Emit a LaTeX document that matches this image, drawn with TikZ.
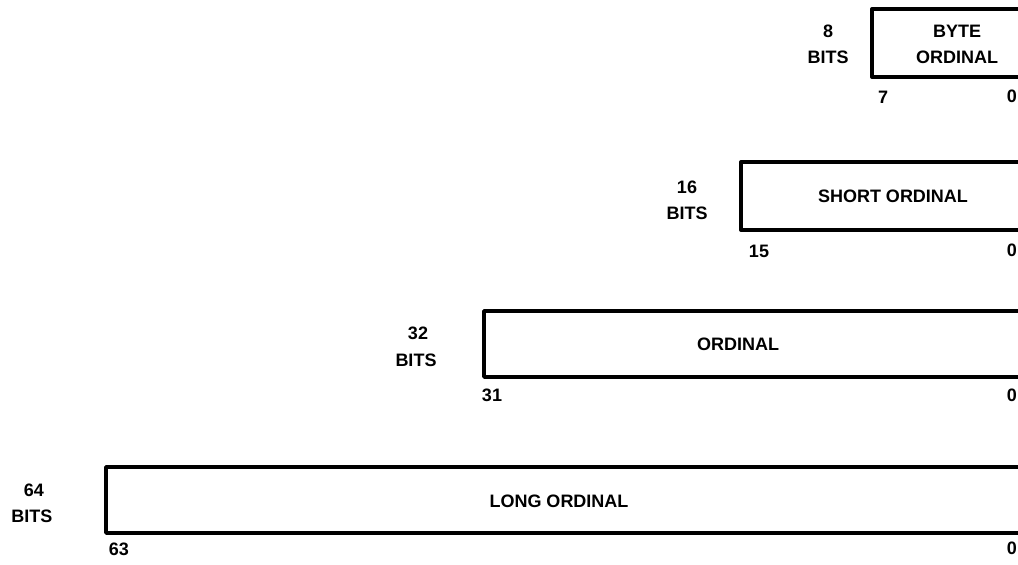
\documentclass[tikz,border=0pt]{standalone}
\usepackage{fontspec}
\setmainfont{Liberation Sans}
\begin{document}
\begin{tikzpicture}[x=1pt,y=-1pt,
  lbl/.style={font=\fontsize{18}{21}\selectfont\bfseries, inner sep=0pt, anchor=center},
  zero/.style={lbl, anchor=east},
  boxline/.style={line width=3.4pt, line join=round, line cap=butt}]
\useasboundingbox (0,0) rectangle (1018,565);
\begin{scope}
\clip (0,0) rectangle (1018,565);
% boxes (open on the right, cut by the page edge)
\draw[boxline] (1030,9) -- (872,9) -- (872,77) -- (1030,77);
\draw[boxline] (1030,162) -- (741,162) -- (741,230) -- (1030,230);
\draw[boxline] (1030,311) -- (484,311) -- (484,377) -- (1030,377);
\draw[boxline] (1030,467) -- (106,467) -- (106,533) -- (1030,533);
% byte ordinal
\node[lbl] (n8) at (828,31) {8};
\node[lbl] (b8) at (828,57) {BITS};
\node[lbl] (t1) at (957,31) {BYTE};
\node[lbl] (t1b) at (957,57) {ORDINAL};
\node[lbl] (h8) at (883,97) {7};
\node[zero] (l8) at (1017,96) {0};
% short ordinal
\node[lbl] (n16) at (687,187) {16};
\node[lbl] (b16) at (687,213) {BITS};
\node[lbl] (t2) at (893,196) {SHORT ORDINAL};
\node[lbl] (h16) at (759,251) {15};
\node[zero] (l16) at (1017,250) {0};
% ordinal
\node[lbl] (n32) at (418,333) {32};
\node[lbl] (b32) at (416,360) {BITS};
\node[lbl] (t3) at (738,344) {ORDINAL};
\node[lbl] (h32) at (492,395) {31};
\node[zero] (l32) at (1017,395) {0};
% long ordinal
\node[lbl] (n64) at (34,490) {64};
\node[lbl] (b64) at (32,516) {BITS};
\node[lbl] (t4) at (559,501) {LONG ORDINAL};
\node[lbl] (h64) at (119,549) {63};
\node[zero] (l64) at (1017,548) {0};
\end{scope}
\end{tikzpicture}
\end{document}
